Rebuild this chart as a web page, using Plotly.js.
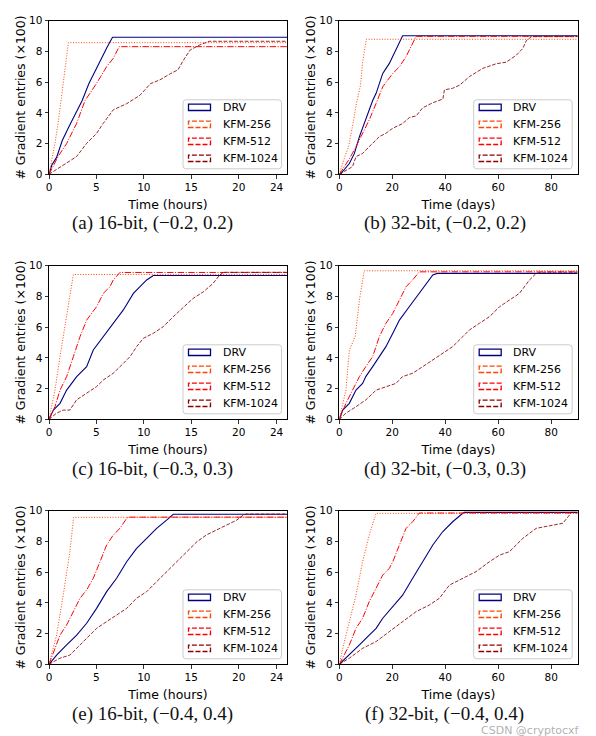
<!DOCTYPE html>
<html><head><meta charset="utf-8">
<script src="https://cdn.plot.ly/plotly-3.0.1.min.js"></script>
<style>html,body{margin:0;padding:0;background:#fff}#chart{width:596px;height:736px}</style>
</head><body><div id="chart"></div>
<script>
// ---------- DATA ----------
const seriesNames = ['DRV', 'KFM-256', 'KFM-512', 'KFM-1024'];
const captions = ['(a) 16-bit, (\u22120.2, 0.2)', '(b) 32-bit, (\u22120.2, 0.2)',
                  '(c) 16-bit, (\u22120.3, 0.3)', '(d) 32-bit, (\u22120.3, 0.3)',
                  '(e) 16-bit, (\u22120.4, 0.4)', '(f) 32-bit, (\u22120.4, 0.4)'];
const hourTicks = [0, 5, 10, 15, 20, 24];
const dayTicks = [0, 20, 40, 60, 80];
const yTicks = [0, 2, 4, 6, 8, 10];
const hourMax = 25.1, dayMax = 90;
const xTitleHours = 'Time (hours)', xTitleDays = 'Time (days)';
const yTitle = '# Gradient entries (\u00d7100)';
const watermark = 'CSDN @cryptocxf';

// (a) 16-bit, (-0.2,0.2) — hours
const a_drv_x = [0,0.3,0.8,1.2,1.4,2.1,2.8,3.5,4.2,4.9,5.6,6.15,6.7,25.1];
const a_drv_y = [0,0.6,1.1,1.8,2.2,3.1,4.0,4.8,5.9,6.8,7.65,8.3,8.92,8.92];
const a_256_x = [0,0.3,0.6,1.0,1.4,1.7,2.04,25.1];
const a_256_y = [0,0.9,1.9,3.5,5.3,6.9,8.57,8.57];
const a_512_x = [0,0.5,1.0,1.86,2.9,3.8,5.0,6.07,6.78,7.4,25.1];
const a_512_y = [0,0.6,1.2,2.0,3.3,4.8,5.9,7.0,7.55,8.31,8.31];
const a_1024_x = [0,1.0,1.86,2.9,3.95,5.0,5.7,6.78,8.2,9.6,10.7,11.7,12.8,13.6,14.2,14.9,15.9,16.9,25.1];
const a_1024_y = [0,0.4,0.7,1.15,2.0,2.65,3.3,4.2,4.6,5.15,5.9,6.15,6.55,6.8,7.45,8.1,8.42,8.66,8.66];

// (b) 32-bit, (-0.2,0.2) — days
const b_drv_x = [0,0.6,3.8,5.7,7.6,9.4,11.3,12.6,13.9,16.4,18.9,20.8,22,23.3,23.9,90];
const b_drv_y = [0,0.05,0.7,1.36,2.45,3.32,4.3,4.8,5.27,6.57,7.22,7.87,8.3,8.74,9.02,9.02];
const b_256_x = [0,1,2,3.5,4.5,5.5,6.2,7.2,8,8.8,9.5,10.2,90];
const b_256_y = [0,0.6,1.1,1.8,2.6,3.6,4.4,5.2,5.8,7.3,8.2,8.79,8.79];
const b_512_x = [0,3.8,6.3,8.8,11.3,13.9,16.4,20.2,22.7,25.2,27.1,28.3,29,90];
const b_512_y = [0,1.0,1.8,2.67,3.54,4.62,5.7,6.57,7.0,7.66,8.31,8.74,8.98,8.98];
const b_1024_x = [0,2.5,5,6.3,8.8,11.3,15.1,17.6,20.2,23.9,26.5,29,31.5,35.3,39.1,39.7,42.8,45.4,49.2,54.2,59.3,63,66.8,69.3,70.6,72.5,90];
const b_1024_y = [0,0.27,0.5,1.15,1.36,1.8,2.45,2.67,3.0,3.3,3.7,3.8,4.33,4.66,4.9,5.5,5.6,5.8,6.37,6.9,7.2,7.3,7.75,8.2,8.7,8.96,8.96];

// (c) 16-bit, (-0.3,0.3) — hours
const c_drv_x = [0,0.46,1.16,1.86,2.92,3.97,4.67,5.73,6.78,7.84,8.9,9.6,10.3,11,25.1];
const c_drv_y = [0,0.6,1.04,1.9,2.78,3.43,4.51,5.38,6.25,7.12,8.2,8.63,9.07,9.36,9.36];
const c_256_x = [0,0.63,1.16,1.86,2.57,25.1];
const c_256_y = [0,1.9,4.08,6.68,9.43,9.43];
const c_512_x = [0,0.63,1.16,1.86,2.57,3.27,3.97,5.02,5.73,6.43,6.78,7.48,25.1];
const c_512_y = [0,0.82,1.9,2.78,4.08,5.38,6.46,7.33,8.2,8.63,9.07,9.56,9.56];
const c_1024_x = [0,0.8,1.5,2.2,2.9,3.97,5.02,5.73,6.78,7.84,8.54,9.24,9.94,11,12.05,13.1,14.2,15.2,16.3,17.3,18,18.4,25.1];
const c_1024_y = [0,0.4,0.6,0.6,1.26,1.7,2.13,2.56,3.0,3.64,4.08,4.73,5.27,5.6,6.03,6.68,7.33,7.87,8.31,8.85,9.39,9.57,9.57];

// (d) 32-bit, (-0.3,0.3) — days
const d_drv_x = [0,1.3,3.8,6.3,8.8,10,12.6,15.1,17.6,20.2,22.7,26.4,30.2,32.7,35.3,37,90];
const d_drv_y = [0,0.6,1.04,1.9,2.34,2.78,3.43,4.08,4.73,5.6,6.46,7.33,8.2,8.85,9.4,9.5,9.5];
const d_256_x = [0,2.5,3.8,5,6,7.6,9.4,90];
const d_256_y = [0,1.9,4.5,4.95,5.38,7.77,9.67,9.67];
const d_512_x = [0,2.5,5,7.6,10,12.6,15.1,17.6,20.2,22.7,25.2,27.7,30.2,90];
const d_512_y = [0,1.04,1.9,2.78,3.43,4.08,5.38,6.25,6.9,7.77,8.63,9.07,9.6,9.6];
const d_1024_x = [0,2.5,6.3,10,13.9,17.6,21.4,23.9,27.7,31.5,35.3,39,42.8,46.6,49.1,52.9,56.7,60.5,64.2,68,71.8,74.3,76.8,90];
const d_1024_y = [0,0.4,0.82,1.26,1.9,2.13,2.34,2.78,3.0,3.43,3.86,4.3,4.73,5.38,5.81,6.25,6.68,7.33,7.77,8.2,9.07,9.5,9.58,9.58];

// (e) 16-bit, (-0.4,0.4) — hours
const e_drv_x = [0,0.8,1.86,2.92,3.97,5.02,6.08,7.13,8.19,9.24,10.3,11.35,12.4,13.1,25.1];
const e_drv_y = [0,0.6,1.26,1.9,2.67,3.64,4.73,5.6,6.68,7.55,8.2,8.85,9.39,9.77,9.77];
const e_256_x = [0,0.8,1.5,2.2,2.6,25.1];
const e_256_y = [0,1.9,4.5,7.33,9.57,9.57];
const e_512_x = [0,0.6,1.16,1.86,2.57,3.27,3.97,4.67,5.38,6.08,6.78,7.48,8.19,8.36,25.1];
const e_512_y = [0,1.04,1.9,2.56,3.43,4.3,4.84,5.6,6.68,7.77,8.42,8.85,9.5,9.58,9.58];
const e_1024_x = [0,1.16,2.2,2.9,3.97,5.02,6.08,7.13,8.19,9.24,10.3,11.35,12.4,13.5,14.5,15.6,16.6,18,19.1,19.8,20.5,20.8,25.1];
const e_1024_y = [0,0.4,0.6,1.04,1.7,2.34,2.78,3.21,3.64,4.3,4.73,5.38,6.03,6.68,7.33,7.98,8.42,8.85,9.18,9.39,9.72,9.78,9.78];

// (f) 32-bit, (-0.4,0.4) — days
const f_drv_x = [0,3.8,7.6,11.3,13.9,16.4,20.2,23.9,27.7,31.5,35.3,39,42.8,46.6,47.2,90];
const f_drv_y = [0,0.6,1.26,1.9,2.34,3.0,3.75,4.5,5.6,6.68,7.77,8.63,9.28,9.83,9.89,9.89];
const f_256_x = [0,1.3,3.8,6.3,8.8,11.3,13.9,90];
const f_256_y = [0,1.04,2.78,4.5,6.68,8.42,9.83,9.83];
const f_512_x = [0,3.8,6.3,8.8,11.3,13.9,16.4,18.9,20.2,22.7,25.2,27.7,30.2,90];
const f_512_y = [0,1.26,2.34,3.0,4.08,4.95,5.81,6.25,6.68,7.77,8.85,9.28,9.85,9.85];
const f_1024_x = [0,3.8,8.8,13.9,18.9,23.9,29,34,37.8,41.6,46.6,51.6,56.7,60.5,64.2,69.3,74.3,80.6,84.4,86.9,87.5,90];
const f_1024_y = [0,0.4,1.04,1.48,2.13,2.78,3.43,3.86,4.3,5.16,5.6,6.03,6.68,7.11,7.33,8.2,8.85,9.07,9.18,9.72,9.89,9.89];

// ---------- STYLE / LAYOUT ----------
const W = 596, H = 736;
const colors = ['#000080', '#ff4500', '#ff0000', '#8b0000'];
const dashes = ['solid', '1px,1.65px', '6.4px,1.6px,1px,1.6px', '3.7px,1.6px'];
const widths = [1.1, 1, 1, 1];
const handleDash = ['solid', '5px,2px', '5px,2px', '5px,2px'];
const colL = [49, 339.3], colR = [287, 577.7];
const rowT = [20.7, 265.7, 510.7], rowB = [174.3, 419.3, 664.3];
const capX = [152, 445], capY = [223, 469, 714];
const FONT = 'DejaVu Sans, sans-serif';

const panels = [
  {unit: 'h', xs: [a_drv_x, a_256_x, a_512_x, a_1024_x], ys: [a_drv_y, a_256_y, a_512_y, a_1024_y]},
  {unit: 'd', xs: [b_drv_x, b_256_x, b_512_x, b_1024_x], ys: [b_drv_y, b_256_y, b_512_y, b_1024_y]},
  {unit: 'h', xs: [c_drv_x, c_256_x, c_512_x, c_1024_x], ys: [c_drv_y, c_256_y, c_512_y, c_1024_y]},
  {unit: 'd', xs: [d_drv_x, d_256_x, d_512_x, d_1024_x], ys: [d_drv_y, d_256_y, d_512_y, d_1024_y]},
  {unit: 'h', xs: [e_drv_x, e_256_x, e_512_x, e_1024_x], ys: [e_drv_y, e_256_y, e_512_y, e_1024_y]},
  {unit: 'd', xs: [f_drv_x, f_256_x, f_512_x, f_1024_x], ys: [f_drv_y, f_256_y, f_512_y, f_1024_y]}
];

const px = x => x / W, py = y => 1 - y / H;
const traces = [];
const layout = {
  width: W, height: H, margin: {l: 0, r: 0, t: 0, b: 0},
  paper_bgcolor: '#fff', plot_bgcolor: '#fff', showlegend: false,
  font: {family: FONT, color: '#000'},
  shapes: [], annotations: []
};

function roundRectPath(x0, y0, x1, y1, r) {
  const P = (x, y) => px(x).toFixed(5) + ',' + py(y).toFixed(5);
  return 'M' + P(x0 + r, y0) + ' L' + P(x1 - r, y0) + ' Q' + P(x1, y0) + ' ' + P(x1, y0 + r) +
    ' L' + P(x1, y1 - r) + ' Q' + P(x1, y1) + ' ' + P(x1 - r, y1) +
    ' L' + P(x0 + r, y1) + ' Q' + P(x0, y1) + ' ' + P(x0, y1 - r) +
    ' L' + P(x0, y0 + r) + ' Q' + P(x0, y0) + ' ' + P(x0 + r, y0) + ' Z';
}

panels.forEach((p, i) => {
  const col = i % 2, row = Math.floor(i / 2);
  const suf = i === 0 ? '' : String(i + 1);
  const L = colL[col], R = colR[col], T = rowT[row], B = rowB[row];
  const isH = p.unit === 'h';
  p.xs.forEach((xs, k) => {
    traces.push({
      x: xs, y: p.ys[k], xaxis: 'x' + suf, yaxis: 'y' + suf, type: 'scatter', mode: 'lines',
      name: seriesNames[k], hoverinfo: 'skip',
      line: {color: colors[k], width: widths[k], dash: dashes[k]},
      opacity: k === 3 ? 0.85 : 1
    });
  });
  const common = {
    showline: true, linecolor: '#000', linewidth: 1, mirror: true, showgrid: false, zeroline: false,
    ticks: 'outside', ticklen: 3.5, tickwidth: 0.8, tickcolor: '#000',
    tickfont: {family: FONT, size: 10.5, color: '#000'}, fixedrange: true
  };
  layout['xaxis' + suf] = Object.assign({}, common, {
    domain: [px(L), px(R)], anchor: 'y' + suf,
    range: [0, isH ? hourMax : dayMax],
    tickvals: isH ? hourTicks : dayTicks,
    title: {text: isH ? xTitleHours : xTitleDays, font: {family: FONT, size: 12.5, color: '#000'}, standoff: 7}
  });
  layout['yaxis' + suf] = Object.assign({}, common, {
    domain: [py(B), py(T)], anchor: 'x' + suf,
    range: [0, 10], tickvals: yTicks,
    title: {text: yTitle, font: {family: FONT, size: 12.5, color: '#000'}, standoff: 0}
  });
  // legend (matplotlib-style patch handles)
  const bx0 = R - 104, bx1 = R - 5.5, by0 = B - 74.5, by1 = B - 5.5;
  layout.shapes.push({type: 'path', xref: 'paper', yref: 'paper', layer: 'above',
    path: roundRectPath(bx0, by0, bx1, by1, 3),
    fillcolor: 'rgba(255,255,255,0.8)', line: {color: '#cccccc', width: 1}});
  seriesNames.forEach((nm, k) => {
    const cy = by0 + 7.5 + 17 * k;
    layout.shapes.push({type: 'rect', xref: 'paper', yref: 'paper', layer: 'above',
      x0: px(bx0 + 5.5), x1: px(bx0 + 27.5), y0: py(cy + 3.2), y1: py(cy - 3.2),
      fillcolor: 'rgba(0,0,0,0)', line: {color: colors[k], width: 1.3, dash: handleDash[k]}});
    layout.annotations.push({xref: 'paper', yref: 'paper', x: px(bx0 + 37.5), y: py(cy),
      xanchor: 'left', yanchor: 'middle', showarrow: false, text: nm,
      font: {family: FONT, size: 11, color: '#000'}});
  });
  // caption
  layout.annotations.push({xref: 'paper', yref: 'paper', x: px(capX[col]), y: py(capY[row]),
    xanchor: 'center', yanchor: 'middle', showarrow: false, text: captions[i],
    font: {family: 'Liberation Serif, serif', size: 19, color: '#111'}});
});

layout.annotations.push({xref: 'paper', yref: 'paper', x: px(530), y: py(730),
  xanchor: 'center', yanchor: 'middle', showarrow: false, text: watermark,
  font: {family: FONT, size: 11, color: 'rgba(150,150,150,0.75)'}});

Plotly.newPlot('chart', traces, layout, {staticPlot: true, displayModeBar: false});
</script></body></html>
